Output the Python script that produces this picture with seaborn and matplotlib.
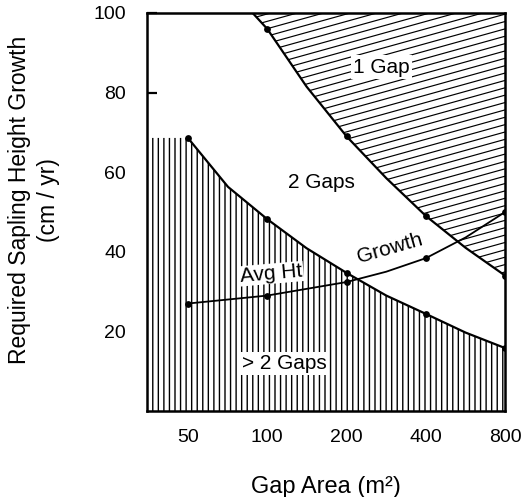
import numpy as np
import seaborn as sns
import matplotlib.pyplot as plt

# values (gap area in m2, growth in cm/yr)
x_lim = (35, 800)
gap_ticks = [50, 100, 200, 400, 800]
gap_tick_labels = ['50', '100', '200', '400', '800']
y_ticks = [20, 40, 60, 80, 100]

# boundary between "1 Gap" and "2 Gaps" (curve traced, plus the dots)
one_gap_x = [88, 100, 141, 200, 283, 400, 566, 800]
one_gap_y = [100, 96, 81.5, 69, 58.5, 49, 41, 34]
one_gap_mark_x = [100, 200, 400, 800]
one_gap_mark_y = [96, 69, 49, 34]

# boundary between "2 Gaps" and "> 2 Gaps"
two_gap_x = [50, 71, 100, 141, 200, 283, 400, 566, 800]
two_gap_y = [68.6, 56.3, 48.2, 40.9, 34.7, 29, 24.4, 19.7, 15.8]
two_gap_mark_x = [50, 100, 200, 400, 800]
two_gap_mark_y = [68.6, 48.2, 34.7, 24.4, 15.8]

# average height growth curve
growth_x = [50, 100, 200, 283, 400, 566, 800]
growth_y = [27, 29, 32.4, 35, 38.4, 43.6, 50]
growth_mark_x = [50, 100, 200, 400, 800]
growth_mark_y = [27, 29, 32.4, 38.4, 50]

sns.set_style('ticks')
plt.rcParams['font.family'] = ['Liberation Sans', 'DejaVu Sans']
plt.rcParams['hatch.linewidth'] = 1.0
for key in ['text.color', 'axes.labelcolor', 'xtick.color', 'ytick.color']:
    plt.rcParams[key] = 'black'

fig = plt.figure(figsize=(5.29, 4.97), dpi=100)
ax = fig.add_axes([0.278, 0.173, 0.677, 0.801])

# "> 2 Gaps" region, vertical hatching
low_x = [x_lim[0]] + two_gap_x
low_y = [two_gap_y[0]] + two_gap_y
ax.fill_between(low_x, 0, low_y, facecolor='white', edgecolor='black',
                hatch='|||', linewidth=0, zorder=1)

# "1 Gap" region, shallow slanted hatching clipped to the polygon
top = ax.fill_between(one_gap_x, one_gap_y, 100, facecolor='white',
                      edgecolor='none', linewidth=0, zorder=1)
clip = top.get_paths()[0]
for off in np.arange(-0.4, 1.2, 0.0185):
    ln, = ax.plot([0, 1], [off, off + 0.25], transform=ax.transAxes,
                  color='black', lw=0.85, zorder=1.5)
    ln.set_clip_path(clip, ax.transData)

# curves
for cx, cy, mx, my, w in [(one_gap_x, one_gap_y, one_gap_mark_x, one_gap_mark_y, 1.6),
                          (two_gap_x, two_gap_y, two_gap_mark_x, two_gap_mark_y, 1.6),
                          (growth_x, growth_y, growth_mark_x, growth_mark_y, 1.3)]:
    sns.lineplot(x=cx, y=cy, color='black', lw=w, ax=ax, zorder=3, sort=False)
    sns.scatterplot(x=mx, y=my, color='black', s=24, ax=ax, zorder=4,
                    linewidth=0)

# region labels
box = dict(facecolor='white', edgecolor='none', pad=1.5)
ax.text(271, 86.4, '1 Gap', fontsize=15, ha='center', va='center', bbox=box, zorder=5)
ax.text(160, 57.3, '2 Gaps', fontsize=15, ha='center', va='center', zorder=5)
ax.text(116, 12, '> 2 Gaps', fontsize=15, ha='center', va='center', bbox=box, zorder=5)
ax.text(104, 34.5, 'Avg Ht', fontsize=15, ha='center', va='center', rotation=5,
        bbox=dict(facecolor='white', edgecolor='none', pad=0.5), zorder=5)
ax.text(293, 40.8, 'Growth', fontsize=15, ha='center', va='center', rotation=16,
        zorder=5)

ax.set_xscale('log')
ax.set_xlim(*x_lim)
ax.set_ylim(0, 100)
ax.set_xticks(gap_ticks)
ax.set_xticklabels(gap_tick_labels)
ax.minorticks_off()
ax.set_yticks(y_ticks)
ax.tick_params(axis='both', direction='in', labelsize=14, width=1.6, color='black')
ax.tick_params(axis='y', length=7, pad=15)
ax.tick_params(axis='x', length=5, pad=13)
for sp in ax.spines.values():
    sp.set_visible(True)
    sp.set_linewidth(1.8)
    sp.set_color('black')
    sp.set_zorder(6)

fig.text(34 / 529, 1 - 200 / 497, 'Required Sapling Height Growth\n(cm / yr)',
         rotation=90, ha='center', va='center', multialignment='center',
         fontsize=16.5, linespacing=1.3)
fig.text(326 / 529, 1 - 487 / 497, 'Gap Area (m²)', ha='center', va='center',
         fontsize=17)

fig.savefig('out.png', dpi=100)
